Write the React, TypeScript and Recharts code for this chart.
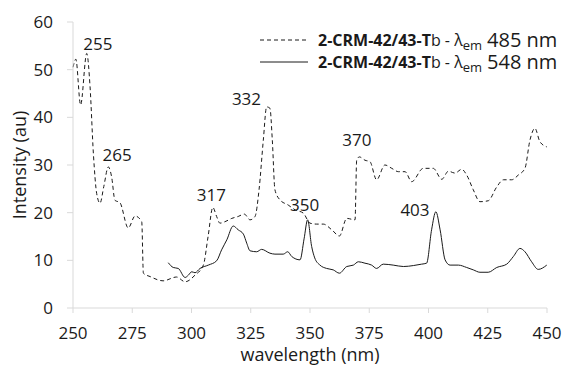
import { LineChart, Line, XAxis, YAxis, ReferenceDot } from 'recharts';

const FONT = '"Open Sans", "DejaVu Sans", sans-serif';

// excitation spectrum monitored at 485 nm (dashed)
const dashedNm = [
  250, 251.2, 253.2, 255.8, 257.2, 258.6, 260, 261.4, 263, 264.9, 266.3, 267.7, 269.8, 273.3, 276.2, 279,
  279.7, 282.5, 288, 293.7, 297.3, 301.5, 305, 307, 309, 310.6, 312, 314.1, 317, 319.7, 322.3, 324.7,
  326.8, 328.5, 330.3, 331.7, 333.1, 334.1, 335.2, 337.3, 340.8, 343.7, 347.2, 350, 352.8, 355.6, 359.2,
  362.4, 365.5, 369, 369.7, 370.8, 373.2, 375.3, 378.1, 381.6, 384.5, 387.3, 390.1, 392.9, 397.8, 402,
  405.6, 408.4, 411.2, 414, 416.1, 418.9, 421.7, 425.2, 428.8, 431.6, 435.1, 437.9, 440.7, 442.8, 444.9,
  447, 449.9,
];
const dashedVal = [
  50.5, 52.2, 42.6, 53.4, 46.4, 32.4, 24, 22, 25.5, 29.6, 27.5, 22.6, 22.1, 16.8, 19.3, 18.1,
  7.3, 6.6, 5.7, 6.5, 5.5, 6.9, 9, 15, 21.1, 19.2, 17.8, 18.1, 18.8, 19.2, 19.7, 18.5,
  19.2, 24.8, 35.2, 42.2, 41.9, 35.2, 24.8, 22.7, 21.6, 20.6, 19.9, 17.8, 17.6, 17.6, 16.4,
  15.1, 18.8, 18.5, 31, 31.7, 31, 30.7, 26.9, 30, 29.3, 28.6, 28.6, 26.5, 29.3, 29.3,
  27, 28.7, 28.3, 29.1, 27.9, 24.8, 22.3, 22.5, 25.4, 26.9, 26.9, 27.9, 29.3, 35.2, 37.7,
  34.9, 33.8,
];

// excitation spectrum monitored at 548 nm (solid)
const solidNm = [
  290.2, 292.3, 294.4, 297.3, 298.7, 300.1, 301.5, 303.6, 307.1, 310.6, 312.7, 314.9, 317.6, 319.7, 321.9,
  323.3, 324.7, 327.5, 329.6, 333.1, 335.2, 338.7, 340.6, 342.3, 345.8, 347.5, 349, 350.7, 352, 354.2,
  357, 359.8, 362.4, 365.5, 368.3, 370.4, 373.2, 376, 378.1, 380.9, 385.1, 389.4, 393.6, 397.1, 399.2,
  401.3, 403.1, 404.9, 407, 409.1, 412.6, 416.1, 418.9, 421.7, 425.2, 428.8, 433, 435.8, 438.6, 440.7,
  443.5, 446.3, 449.9,
];
const solidVal = [
  9.5, 8.5, 8.3, 6.4, 6.9, 7.6, 7.4, 8.3, 9, 9.9, 12.2, 14.3, 17.2, 16.4, 15.5,
  13.6, 12, 11.8, 12.3, 11.5, 11.3, 11.3, 11.8, 10.8, 10.1, 14.5, 18.5, 12.9, 10.5, 9,
  8.3, 8, 7.3, 8.7, 9, 9.7, 9.4, 9, 8.3, 9.2, 9, 8.7, 8.9, 9.2, 9.4,
  16.4, 20.2, 16.4, 10.1, 9, 9, 8.5, 8, 7.5, 7.5, 8.5, 9.2, 10.8, 12.5, 11.8,
  9.7, 8.1, 9,
];

const xTicks = [250, 275, 300, 325, 350, 375, 400, 425, 450];
const yTicks = [0, 10, 20, 30, 40, 50, 60];

// peak annotations (text, and where it sits in data space)
const peakText = ['255', '265', '317', '332', '350', '370', '403'];
const peakNm = [260.5, 268.6, 308.4, 323.2, 347.7, 369.8, 394.3];
const peakVal = [55.4, 32.1, 23.8, 43.9, 21.6, 35.3, 20.6];

const dashedData = dashedNm.map((nm, i) => ({ nm, v: dashedVal[i] }));
const solidData = solidNm.map((nm, i) => ({ nm, v: solidVal[i] }));

const axisGrey = '#d9d9d9';
const ink = '#1a1a1a';

function LegendBox() {
  const rows = [
    { dash: '4 3', em: '485' },
    { dash: undefined, em: '548' },
  ];
  return (
    <div style={{ position: 'absolute', left: 260, top: 29, fontFamily: FONT, color: ink, whiteSpace: 'nowrap', lineHeight: 1 }}>
      {rows.map((r) => (
        <div key={r.em} style={{ display: 'flex', alignItems: 'center', height: 22, overflow: 'visible' }}>
          <svg width={48} height={4} style={{ flex: 'none' }}>
            <line x1={0} y1={2} x2={48} y2={2} stroke={ink} strokeWidth={1} strokeDasharray={r.dash} />
          </svg>
          <span style={{ marginLeft: 10, fontSize: 16, fontWeight: 700 }}>2-CRM-42/43-T</span>
          <span style={{ fontSize: 16 }}>b - λ</span>
          <span style={{ fontSize: 13, position: 'relative', top: 5 }}>em</span>
          <span style={{ fontSize: 20, marginLeft: 5 }}>{r.em} nm</span>
        </div>
      ))}
    </div>
  );
}

export default function App() {
  return (
    <div style={{ position: 'relative', width: 564, height: 365, background: '#fff' }}>
      <style>{`body { margin: 0; }`}</style>
      <LineChart width={564} height={365} margin={{ top: 22, right: 17, bottom: 0, left: 0 }} style={{ fontFamily: FONT }}>
        <XAxis
          type="number"
          dataKey="nm"
          domain={[250, 450]}
          ticks={xTicks}
          height={57}
          stroke={axisGrey}
          tickSize={5}
          tickMargin={14}
          tick={{ fontSize: 17, fill: ink }}
          label={{ value: 'wavelength (nm)', position: 'insideBottom', offset: 4, fontSize: 18, fill: ink }}
        />
        <YAxis
          type="number"
          domain={[0, 60]}
          ticks={yTicks}
          width={73}
          stroke={axisGrey}
          tickSize={6}
          tickMargin={14}
          tick={{ fontSize: 17, fill: ink }}
          label={{ value: 'Intensity (au)', angle: -90, position: 'insideLeft', offset: 20, fontSize: 18, fill: ink, style: { textAnchor: 'middle' } }}
        />
        <Line data={dashedData} dataKey="v" type="monotone" stroke={ink} strokeWidth={1} strokeDasharray="4 3" dot={false} isAnimationActive={false} />
        <Line data={solidData} dataKey="v" type="monotone" stroke={ink} strokeWidth={1} dot={false} isAnimationActive={false} />
        {peakText.map((t, i) => (
          <ReferenceDot
            key={t}
            x={peakNm[i]}
            y={peakVal[i]}
            r={0}
            fill="none"
            stroke="none"
            ifOverflow="visible"
            label={{ value: t, position: 'center', fontSize: 17, fill: ink }}
          />
        ))}
      </LineChart>
      <LegendBox />
    </div>
  );
}
